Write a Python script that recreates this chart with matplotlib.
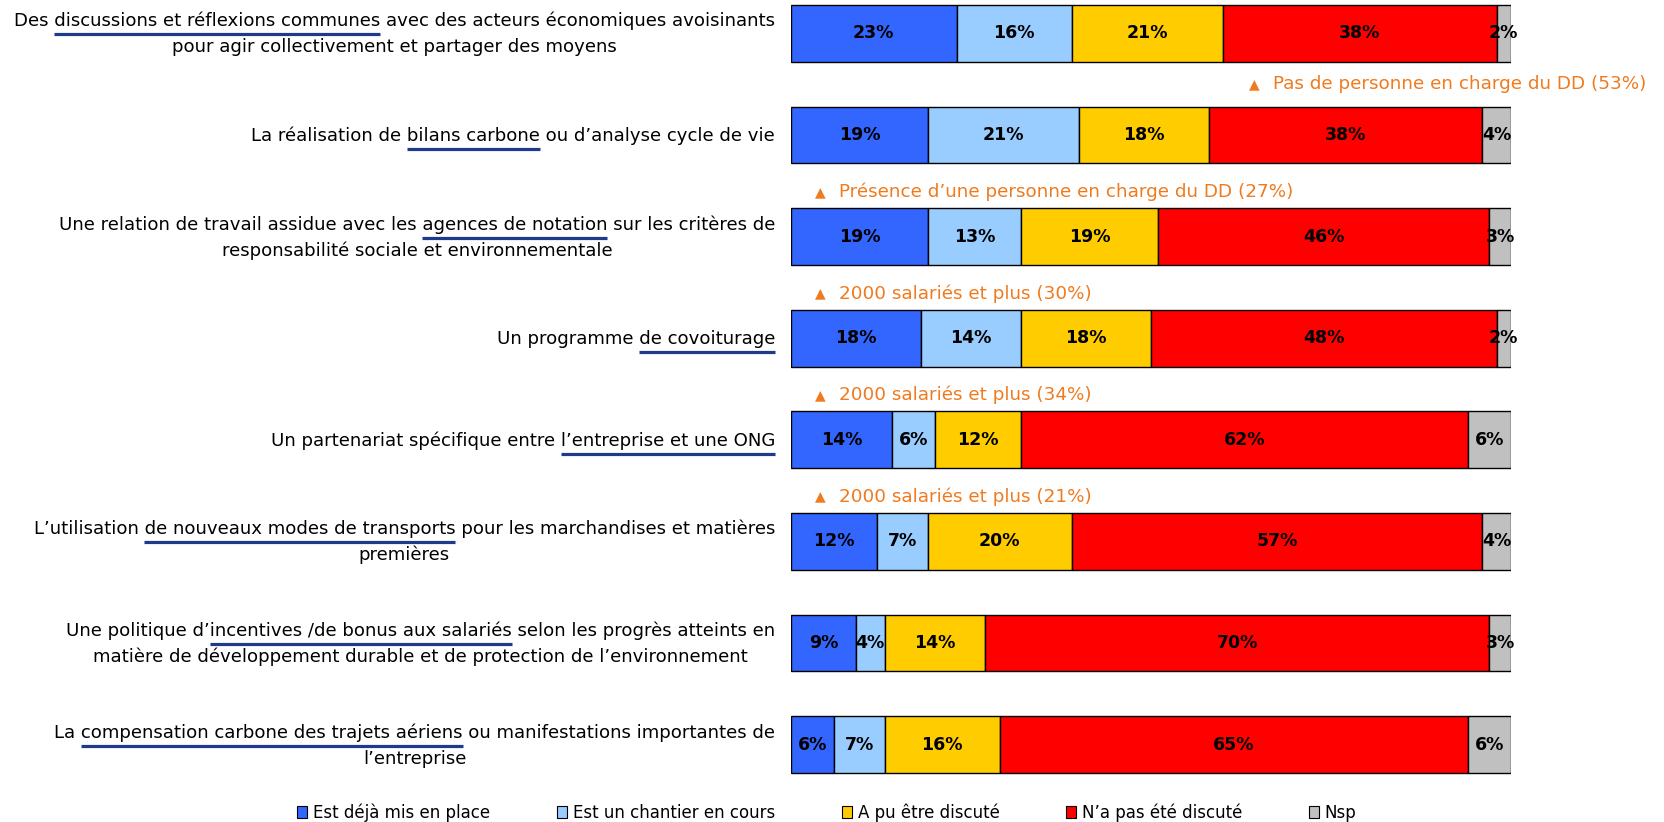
import matplotlib.pyplot as plt
from matplotlib.patches import Patch
from matplotlib.lines import Line2D

# ---------------- data ----------------
labels = [
    ["Des discussions et réflexions communes avec des acteurs économiques avoisinants",
     "pour agir collectivement et partager des moyens"],
    ["La réalisation de bilans carbone ou d’analyse cycle de vie"],
    ["Une relation de travail assidue avec les agences de notation sur les critères de",
     "responsabilité sociale et environnementale"],
    ["Un programme de covoiturage"],
    ["Un partenariat spécifique entre l’entreprise et une ONG"],
    ["L’utilisation de nouveaux modes de transports pour les marchandises et matières",
     "premières"],
    ["Une politique d’incentives /de bonus aux salariés selon les progrès atteints en",
     "matière de développement durable et de protection de l’environnement"],
    ["La compensation carbone des trajets aériens ou manifestations importantes de",
     "l’entreprise"],
]
underlined = [
    "discussions et réflexions communes",
    "bilans carbone",
    "agences de notation",
    "de covoiturage",
    "l’entreprise et une ONG",
    "de nouveaux modes de transports",
    "incentives /de bonus aux salariés",
    "compensation carbone des trajets aériens",
]

est_en_place = [23, 19, 19, 18, 14, 12, 9, 6]
chantier = [16, 21, 13, 14, 6, 7, 4, 7]
pu_discute = [21, 18, 19, 18, 12, 20, 14, 16]
pas_discute = [38, 38, 46, 48, 62, 57, 70, 65]
nsp = [2, 4, 3, 2, 6, 4, 3, 6]

series = [est_en_place, chantier, pu_discute, pas_discute, nsp]
series_names = ["Est déjà mis en place", "Est un chantier en cours", "A pu être discuté",
                "N’a pas été discuté", "Nsp"]
colors = ["#3366FF", "#99CCFF", "#FFCC00", "#FF0000", "#C0C0C0"]

# notes above some bars: (bar index, text)
notes = [
    (1, "Pas de personne en charge du DD (53%)"),
    (2, "Présence d’une personne en charge du DD (27%)"),
    (3, "2000 salariés et plus (30%)"),
    (4, "2000 salariés et plus (34%)"),
    (5, "2000 salariés et plus (21%)"),
]
note_x = [64.3, 4.0, 4.0, 4.0, 4.0]
note_dy = [-0.5, -0.44, -0.44, -0.44, -0.44]

orange = "#F07A1E"
navy = "#1F3A8A"
label_fs = 13.1

# ---------------- figure ----------------
W, H = 1664, 822
fig = plt.figure(figsize=(W / 100, H / 100), dpi=100)
ax = fig.add_axes([791 / W, 1 - 775 / H, 720 / W, 772 / H])
ax.set_xlim(0, 100)
ax.set_ylim(7.3, -0.3)
ax.axis('off')

ypos = list(range(len(labels)))
left = [0] * len(labels)
for vals, name, c in zip(series, series_names, colors):
    ax.barh(ypos, vals, left=left, height=0.56, color=c, edgecolor='black',
            linewidth=1.0, label=name)
    for i, v in enumerate(vals):
        ax.text(left[i] + v / 2, i, f"{v}%", ha='center', va='center',
                fontsize=12.5, fontweight='bold', color='black', clip_on=False)
    left = [l + v for l, v in zip(left, vals)]

# notes
for (i, txt), nx, dy in zip(notes, note_x, note_dy):
    ax.text(nx, i + dy, "▲", ha='center', va='center', fontsize=10, color=orange)
    ax.text(nx + 2.7, i + dy, txt, ha='left', va='center', fontsize=13.2, color=orange)

# category labels with underlines (drawn in pixel space)
renderer = fig.canvas.get_renderer()


def text_width(s):
    t = fig.text(0, 0, s, fontsize=label_fs)
    w = t.get_window_extent(renderer).width
    t.remove()
    return w


x_right = ax.transData.transform((0, 0))[0] - 16
for i, lines in enumerate(labels):
    yc = ax.transData.transform((0, i))[1]
    widths = [text_width(s) for s in lines]
    cx = x_right - max(widths) / 2
    n = len(lines)
    offsets = [0] if n == 1 else [13, -13]
    for s, w, off in zip(lines, widths, offsets):
        ly = yc + off
        fig.text(cx / W, (ly - 6) / H, s, ha='center', va='baseline', fontsize=label_fs)
        p = underlined[i]
        if p in s:
            k = s.index(p)
            lx = cx - w / 2
            x0 = lx + w - text_width(s[k:])
            x1 = lx + text_width(s[:k + len(p)])
            uy = ly - 14
            fig.add_artist(Line2D([x0 / W, x1 / W], [uy / H, uy / H], color=navy,
                                  linewidth=2.3, solid_capstyle='butt',
                                  transform=fig.transFigure))

# legend
handles = [Patch(facecolor=c, edgecolor='black', linewidth=0.8) for c in colors]
fig.legend(handles, series_names, loc='center', bbox_to_anchor=(0.497, 0.011),
           ncol=5, frameon=False, fontsize=12, handlelength=0.6, handleheight=0.75,
           handletextpad=0.35, columnspacing=4.0, borderpad=0)

fig.savefig("out.png", dpi=100)
